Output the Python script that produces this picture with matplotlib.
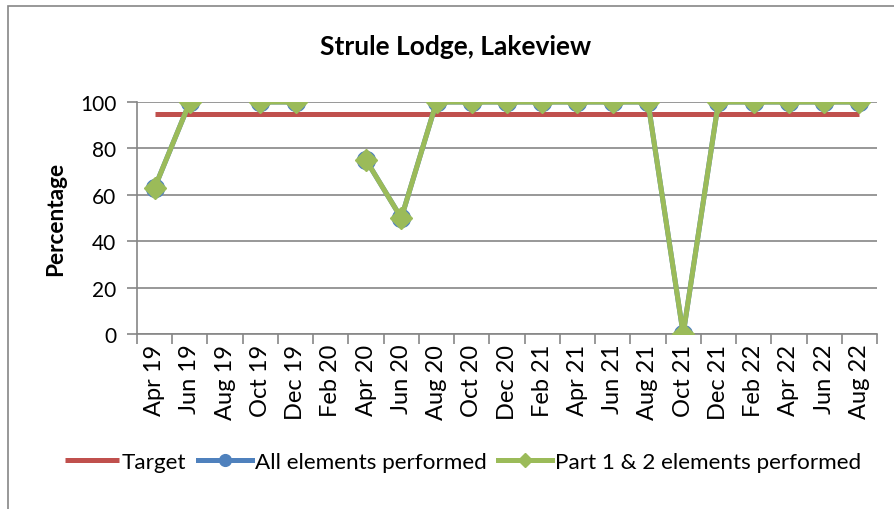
import numpy as np
import matplotlib
matplotlib.use("Agg")
import matplotlib.pyplot as plt
from matplotlib.patches import Rectangle

plt.rcParams['font.family'] = ['Lato', 'DejaVu Sans']

categories = ["Apr 19", "Jun 19", "Aug 19", "Oct 19", "Dec 19", "Feb 20", "Apr 20",
              "Jun 20", "Aug 20", "Oct 20", "Dec 20", "Feb 21", "Apr 21", "Jun 21",
              "Aug 21", "Oct 21", "Dec 21", "Feb 22", "Apr 22", "Jun 22", "Aug 22"]
target = [95] * len(categories)
all_elements = [63, 100, np.nan, 100, 100, np.nan, 75, 50, 100, 100, 100, 100, 100,
                100, 100, 0, 100, 100, 100, 100, 100]
part12 = [63, 100, np.nan, 100, 100, np.nan, 75, 50, 100, 100, 100, 100, 100,
          100, 100, 0, 100, 100, 100, 100, 100]

W, H = 894, 510
fig = plt.figure(figsize=(W / 100, H / 100), dpi=100)

# outer chart border
fig.patches.append(Rectangle((8 / W, -0.1), 1.2, 1 - 7 / H + 0.1, transform=fig.transFigure,
                             fill=False, edgecolor='#868686', linewidth=1.2))

ax = fig.add_axes([137 / W, 1 - 335 / H, (877 - 137) / W, (335 - 103) / H])
x = np.arange(len(categories))

red = '#C0504D'
blue = '#4F81BD'
green = '#9BBB59'

ax.plot(x, target, color=red, linewidth=3.6, solid_capstyle='butt', label='Target', zorder=3)
ax.plot(x, all_elements, color=blue, linewidth=3.6, marker='o', markersize=13,
        markerfacecolor=blue, markeredgecolor=blue, label='All elements performed', zorder=4)
ax.plot(x, part12, color=green, linewidth=3.6, marker='D', markersize=11.5,
        markerfacecolor=green, markeredgecolor=green, label='Part 1 & 2 elements performed', zorder=5)

ax.set_xlim(-0.5, len(categories) - 0.5)
ax.set_ylim(0, 100)
ax.set_yticks([0, 20, 40, 60, 80, 100])
ax.grid(axis='y', color='#868686', linewidth=1.2, zorder=1)
ax.set_axisbelow(True)

ax.set_xticks(x)
ax.set_xticklabels(categories, rotation=90, fontsize=17)
ax.set_xticks(np.arange(-0.5, len(categories), 1), minor=True)
ax.tick_params(axis='x', which='major', length=0, pad=7)
ax.tick_params(axis='x', which='minor', length=7, color='#868686', width=1.2)
ax.tick_params(axis='y', length=7, color='#868686', width=1.2, labelsize=15, pad=8)

for s in ['top', 'right']:
    ax.spines[s].set_visible(False)
for s in ['left', 'bottom']:
    ax.spines[s].set_color('#868686')
    ax.spines[s].set_linewidth(1.2)

ax.set_ylabel('Percentage', fontsize=16.3, fontweight='bold', labelpad=10)
fig.text(456 / W, 1 - 47 / H, 'Strule Lodge, Lakeview', ha='center', va='center',
         fontsize=19, fontweight='bold')

fig.legend(loc='center', bbox_to_anchor=(463 / W, 1 - 463 / H), ncol=3, frameon=False,
           fontsize=16.2, handlelength=2.4, handletextpad=0.15, columnspacing=0.5,
           markerscale=0.65)

fig.savefig('out.png', dpi=100)
